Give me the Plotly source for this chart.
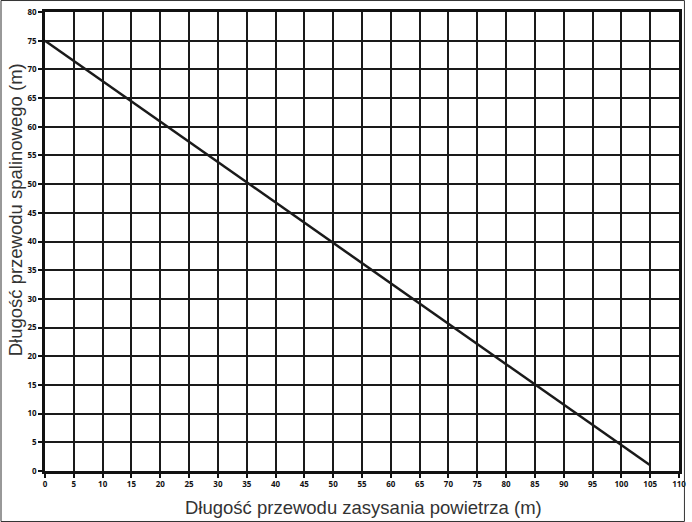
import plotly.graph_objects as go

# Line: exhaust duct length vs. air intake duct length
intake_len = [0, 105]
exhaust_len = [75, 1]

x_ticks = list(range(0, 111, 5))
y_ticks = list(range(0, 81, 5))

x_title = "Długość przewodu zasysania powietrza (m)"
y_title = "Długość przewodu spalinowego (m)"

fig = go.Figure()
fig.add_trace(go.Scatter(
    x=intake_len, y=exhaust_len, mode="lines",
    line=dict(color="#1a1a1a", width=2.5),
    showlegend=False, hoverinfo="skip",
))

tick_font = dict(family="Open Sans", size=8, color="#111111", weight="bold")
axis_common = dict(
    showgrid=True, gridcolor="#1a1a1a", gridwidth=1.6,
    showline=True, linecolor="#111111", linewidth=2.5, mirror=True,
    ticks="outside", ticklen=4, tickcolor="#111111", tickwidth=1.5,
    zeroline=False, tickfont=tick_font,
)

fig.update_xaxes(range=[0, 110], tickvals=x_ticks,
                 ticktext=[str(v) for v in x_ticks], **axis_common)
fig.update_yaxes(range=[0, 80], tickvals=y_ticks,
                 ticktext=[str(v) for v in y_ticks], **axis_common)

title_font = dict(family="Liberation Sans", size=18.5, color="#333333")
fig.add_annotation(text=x_title, xref="paper", yref="paper",
                   x=0.5023, y=-0.0806, xanchor="center", yanchor="middle",
                   showarrow=False, font=title_font)
fig.add_annotation(text=y_title, xref="paper", yref="paper",
                   x=-0.0468, y=0.5686, xanchor="center", yanchor="middle",
                   textangle=-90, showarrow=False, font=title_font)

# outer frame around the whole figure
fig.add_shape(type="rect", xref="paper", yref="paper",
              x0=-0.0694, x1=1.0086, y0=-0.110, y1=1.025,
              line=dict(color="#333333", width=1), layer="above")

fig.update_layout(
    width=692, height=522,
    margin=dict(l=45, r=6, t=12, b=51),
    paper_bgcolor="white", plot_bgcolor="white",
)

fig.write_html("out.html")
